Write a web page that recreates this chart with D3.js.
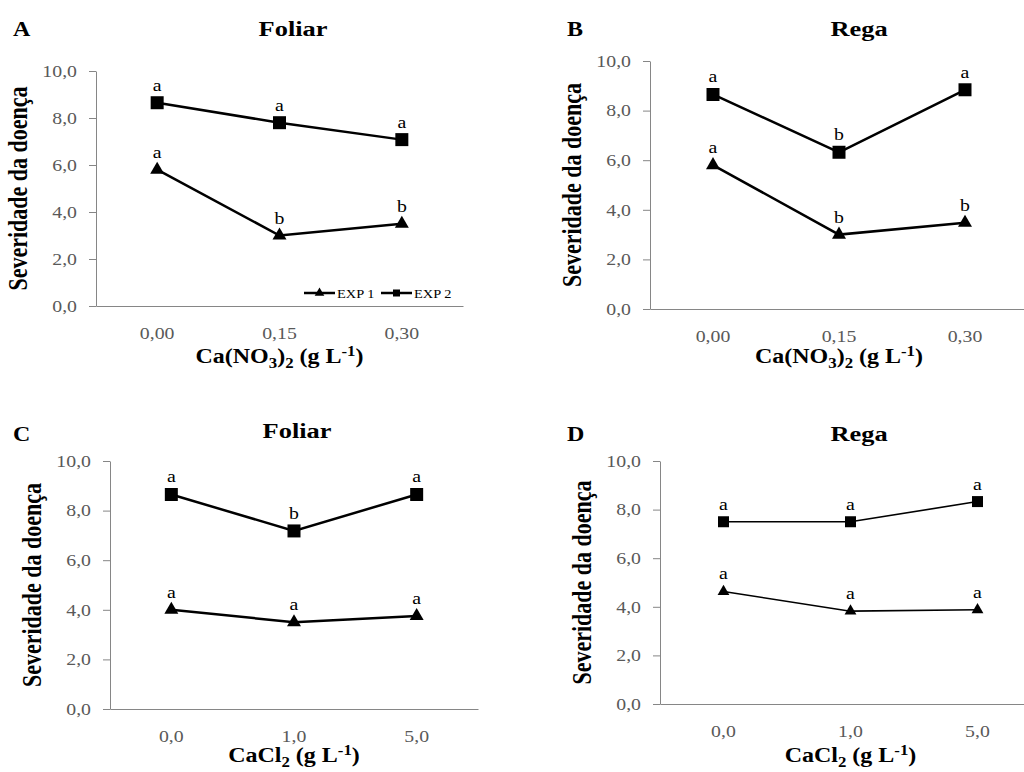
<!DOCTYPE html>
<html>
<head>
<meta charset="utf-8">
<script src="https://cdn.jsdelivr.net/npm/d3@7"></script>
<style>
  body { margin: 0; background: #fff; }
  svg { display: block; font-family: "Liberation Serif", "Times New Roman", serif; }
</style>
</head>
<body>
<svg id="chart"></svg>
<script>
// doses on the x axis
const dosesNO3 = ["0,00", "0,15", "0,30"];
const dosesCl = ["0,0", "1,0", "5,0"];
const yTicks = [0, 2, 4, 6, 8, 10];

// disease severity, EXP 1 (triangles) and EXP 2 (squares)
const exp1A = [5.8, 3.0, 3.5];
const exp2A = [8.65, 7.8, 7.08];
const exp1B = [5.8, 3.0, 3.48];
const exp2B = [8.65, 6.32, 8.84];
const exp1C = [4.0, 3.5, 3.75];
const exp2C = [8.65, 7.18, 8.65];
const exp1D = [4.63, 3.82, 3.88];
const exp2D = [7.5, 7.5, 8.33];

// letters of the mean test
const let1A = ["a", "b", "b"], let2A = ["a", "a", "a"];
const let1B = ["a", "b", "b"], let2B = ["a", "b", "a"];
const let1C = ["a", "a", "a"], let2C = ["a", "b", "a"];
const let1D = ["a", "a", "a"], let2D = ["a", "a", "a"];

const W = 1024, H = 772;
const stretch = 1.2; // text in the figure is a bit wider than Times

const panels = [
  { tag: "A", title: "Foliar", cats: dosesNO3, e1: exp1A, e2: exp2A, l1: let1A, l2: let2A, salt: "no3",
    left: 96, right: 463, top: 71, bottom: 306, titleX: 293, titleY: 36, tagX: 13, tagY: 36, xtY: 363, lw: 2.5, ms: 13, legend: true },
  { tag: "B", title: "Rega", cats: dosesNO3, e1: exp1B, e2: exp2B, l1: let1B, l2: let2B, salt: "no3",
    left: 650, right: 1028, top: 61, bottom: 309, titleX: 859, titleY: 36, tagX: 567, tagY: 36, xtY: 363, lw: 2.5, ms: 13 },
  { tag: "C", title: "Foliar", cats: dosesCl, e1: exp1C, e2: exp2C, l1: let1C, l2: let2C, salt: "cl",
    left: 110, right: 478, top: 461, bottom: 709, titleX: 297, titleY: 438, tagX: 13, tagY: 441, xtY: 762, lw: 2.5, ms: 13 },
  { tag: "D", title: "Rega", cats: dosesCl, e1: exp1D, e2: exp2D, l1: let1D, l2: let2D, salt: "cl",
    left: 660, right: 1041, top: 461, bottom: 704, titleX: 859, titleY: 441, tagX: 567, tagY: 441, xtY: 762, lw: 1.6, ms: 11 }
];

const svg = d3.select("#chart").attr("width", W).attr("height", H);
svg.append("rect").attr("width", W).attr("height", H).attr("fill", "#fff");

const fmt = (v) => d3.format(".1f")(v).replace(".", ",");

function stretchText(sel) {
  sel.each(function () {
    const t = d3.select(this);
    const x = +t.attr("x") || 0;
    t.attr("x", 0).attr("transform", `translate(${x},0) scale(${stretch},1)`);
  });
}

function addSaltTitle(text, salt) {
  if (salt === "no3") {
    text.append("tspan").text("Ca(NO");
    text.append("tspan").attr("dy", 5).style("font-size", "14px").text("3");
    text.append("tspan").attr("dy", -5).text(")");
    text.append("tspan").attr("dy", 5).style("font-size", "14px").text("2");
    text.append("tspan").attr("dy", -5).text(" (g L");
  } else {
    text.append("tspan").text("CaCl");
    text.append("tspan").attr("dy", 5).style("font-size", "14px").text("2");
    text.append("tspan").attr("dy", -5).text(" (g L");
  }
  text.append("tspan").attr("dy", -7).style("font-size", "14px").text("-1");
  text.append("tspan").attr("dy", 7).text(")");
}

panels.forEach((p) => {
  const g = svg.append("g");

  const x = d3.scaleBand().domain(p.cats).range([p.left, p.right]);
  const y = d3.scaleLinear().domain([0, 10]).range([p.bottom, p.top]);

  // y axis
  const yAxis = g.append("g")
    .attr("transform", `translate(${p.left},0)`)
    .call(d3.axisLeft(y).tickValues(yTicks).tickFormat(fmt).tickSize(7).tickSizeOuter(0).tickPadding(12));
  yAxis.select(".domain").attr("stroke", "#868686");
  yAxis.selectAll(".tick line").attr("stroke", "#868686");
  yAxis.selectAll(".tick text")
    .attr("fill", "#595959").style("font-size", "16.5px").style("font-family", "Liberation Serif")
    .call(stretchText);

  // x axis
  const xAxis = g.append("g")
    .attr("transform", `translate(0,${p.bottom})`)
    .call(d3.axisBottom(x).tickSize(0).tickSizeOuter(0).tickPadding(21));
  xAxis.select(".domain").attr("stroke", "#868686");
  xAxis.selectAll(".tick text")
    .attr("fill", "#595959").style("font-size", "16.5px").style("font-family", "Liberation Serif")
    .call(stretchText);

  const cx = (i) => x(p.cats[i]) + x.bandwidth() / 2;

  // series lines
  const line = d3.line().x((d, i) => cx(i)).y((d) => y(d));
  [p.e1, p.e2].forEach((vals) => {
    g.append("path").datum(vals)
      .attr("d", line).attr("fill", "none")
      .attr("stroke", "#000").attr("stroke-width", p.lw);
  });

  // markers
  const tri = d3.symbol().type(d3.symbolTriangle).size(p.ms * p.ms * 0.5);
  const sq = d3.symbol().type(d3.symbolSquare).size(p.ms * p.ms);
  g.selectAll(".tri").data(p.e1).enter().append("path")
    .attr("d", tri).attr("transform", (d, i) => `translate(${cx(i)},${y(d)})`).attr("fill", "#000");
  g.selectAll(".sq").data(p.e2).enter().append("path")
    .attr("d", sq).attr("transform", (d, i) => `translate(${cx(i)},${y(d)})`).attr("fill", "#000");

  // letters
  [[p.e1, p.l1], [p.e2, p.l2]].forEach(([vals, lets]) => {
    g.selectAll(null).data(vals).enter().append("text")
      .attr("transform", (d, i) => `translate(${cx(i)},${y(d) - 12}) scale(${stretch},1)`)
      .attr("text-anchor", "middle").style("font-size", "16.5px").attr("fill", "#000")
      .text((d, i) => lets[i]);
  });

  // titles
  g.append("text").attr("transform", `translate(${p.titleX},${p.titleY}) scale(${stretch},1)`)
    .attr("text-anchor", "middle").style("font-size", "22px").style("font-weight", "bold").text(p.title);
  g.append("text").attr("transform", `translate(${p.tagX},${p.tagY}) scale(${stretch},1)`)
    .style("font-size", "20px").style("font-weight", "bold").text(p.tag);

  // y axis title
  g.append("text")
    .attr("transform", `translate(${p.left - 69},${(p.top + p.bottom) / 2}) scale(${stretch},1) rotate(-90)`)
    .attr("text-anchor", "middle").style("font-size", "22px").style("font-weight", "bold")
    .text("Severidade da doença");

  // x axis title
  const xt = g.append("text")
    .attr("transform", `translate(${(p.left + p.right) / 2},${p.xtY}) scale(${stretch},1)`)
    .attr("text-anchor", "middle").style("font-size", "20px").style("font-weight", "bold");
  addSaltTitle(xt, p.salt);

  if (p.legend) {
    const lg = g.append("g").attr("transform", `translate(304,293)`);
    const items = [{ name: "EXP 1", sym: d3.symbol().type(d3.symbolTriangle).size(40) },
                   { name: "EXP 2", sym: d3.symbol().type(d3.symbolSquare).size(49) }];
    items.forEach((it, i) => {
      const ig = lg.append("g").attr("transform", `translate(${i * 77},0)`);
      ig.append("line").attr("x1", 0).attr("x2", 31).attr("stroke", "#000").attr("stroke-width", 2.5);
      ig.append("path").attr("d", it.sym).attr("transform", "translate(15.5,0)");
      ig.append("text").attr("transform", `translate(33,4.5) scale(${stretch},1)`)
        .style("font-size", "12px").attr("fill", "#000").text(it.name);
    });
  }
});
</script>
</body>
</html>
